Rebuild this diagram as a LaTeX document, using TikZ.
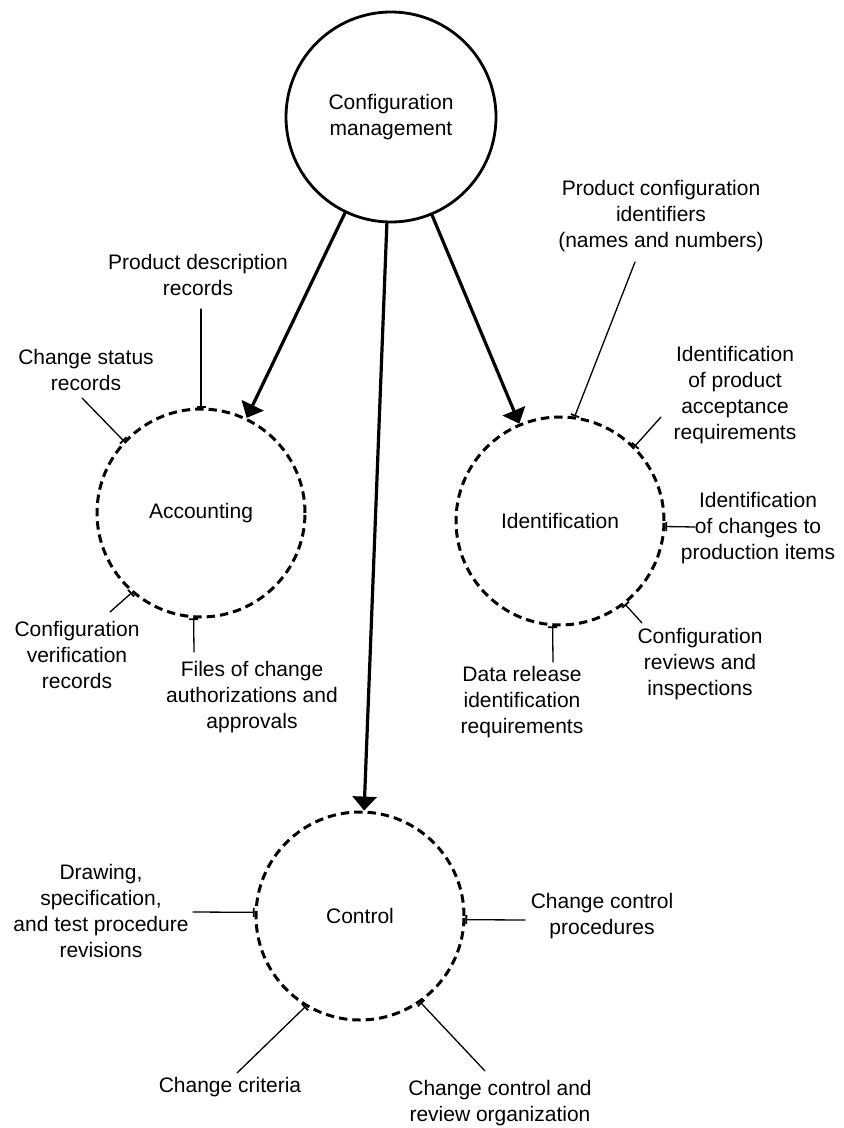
\documentclass[tikz,border=0pt]{standalone}
\usepackage{fontspec}
\setmainfont{Liberation Sans}
\usetikzlibrary{arrows.meta}
\begin{document}
\begin{tikzpicture}[x=0.5pt,y=-0.5pt,line join=round,line cap=round,
    every node/.style={font=\fontsize{10.5}{13}\selectfont},
    topcirc/.style={circle,draw,line width=1.4pt,minimum size=105pt,inner sep=0pt,align=center},
    subcirc/.style={circle,draw,line width=1.5pt,line cap=butt,dash pattern=on 4.2pt off 2.5pt,minimum size=104pt,inner sep=0pt},
    lbl/.style={align=center,inner sep=0pt},
    tick/.style={line width=0.65pt,-{Bar[width=4.5pt,line width=0.9pt]}},
    feed/.style={line width=1.6pt,-{Triangle[length=7pt,width=12pt]}}]
    \useasboundingbox (0,0) rectangle (843,1128);
    % the four circles
    \node[topcirc] (cm) at (391,117) {Configuration\\management};
    \node[subcirc] (acc) at (201,513) {Accounting};
    \node[subcirc] (ident) at (560,521) {Identification};
    \node[subcirc] (ctrl) at (360,916) {Control};
    \draw[feed] (cm) -- (acc);
    \draw[feed] (cm) -- (ident);
    \draw[feed] (cm) -- (ctrl);
    % accounting
    \node[lbl] (pdr) at (198,275) {Product description\\records};
    \node[lbl] (csr) at (86,370) {Change status\\records};
    \node[lbl] (cvr) at (77,655) {Configuration\\verification\\records};
    \node[lbl] (fca) at (252,697) {Files of change\\authorizations and\\approvals};
    \coordinate (pdrE) at (201,309); \coordinate (csrE) at (82,398);
    \coordinate (cvrE) at (110,612); \coordinate (fcaE) at (194,652);
    \draw[tick] (pdrE) -- (acc.90);
    \draw[tick] (csrE) -- (acc.137);
    \draw[tick] (cvrE) -- (acc.229);
    \draw[tick] (fcaE) -- (acc.266);
    % identification
    \node[lbl] (pci) at (661,216) {Product configuration\\identifiers\\(names and numbers)};
    \node[lbl] (ipa) at (735,395) {Identification\\of product\\acceptance\\requirements};
    \node[lbl] (icp) at (758,528) {Identification\\of changes to\\production items};
    \node[lbl] (crv) at (700,664) {Configuration\\reviews and\\inspections};
    \node[lbl] (drr) at (522,702) {Data release\\identification\\requirements};
    \coordinate (pciE) at (635,262); \coordinate (ipaE) at (661,417);
    \coordinate (icpE) at (695,527); \coordinate (crvE) at (642,623);
    \coordinate (drrE) at (553,662);
    \draw[tick] (pciE) -- (ident.82);
    \draw[tick] (ipaE) -- (ident.45);
    \draw[tick] (icpE) -- (ident.-3);
    \draw[tick] (crvE) -- (ident.-52);
    \draw[tick] (drrE) -- (ident.266);
    % control
    \node[lbl] (dsr) at (101,911) {Drawing,\\specification,\\and test procedure\\revisions};
    \node[lbl] (ccp) at (602,916) {Change control\\procedures};
    \node[lbl] (ccr) at (230,1087) {Change criteria};
    \node[lbl] (cro) at (500,1103) {Change control and\\review organization};
    \coordinate (dsrE) at (193,912); \coordinate (ccpE) at (525,920);
    \coordinate (ccrE) at (237,1073); \coordinate (croE) at (485,1071);
    \draw[tick] (dsrE) -- (ctrl.178);
    \draw[tick] (ccpE) -- (ctrl.-2);
    \draw[tick] (ccrE) -- (ctrl.239);
    \draw[tick] (croE) -- (ctrl.-55);
\end{tikzpicture}
\end{document}
